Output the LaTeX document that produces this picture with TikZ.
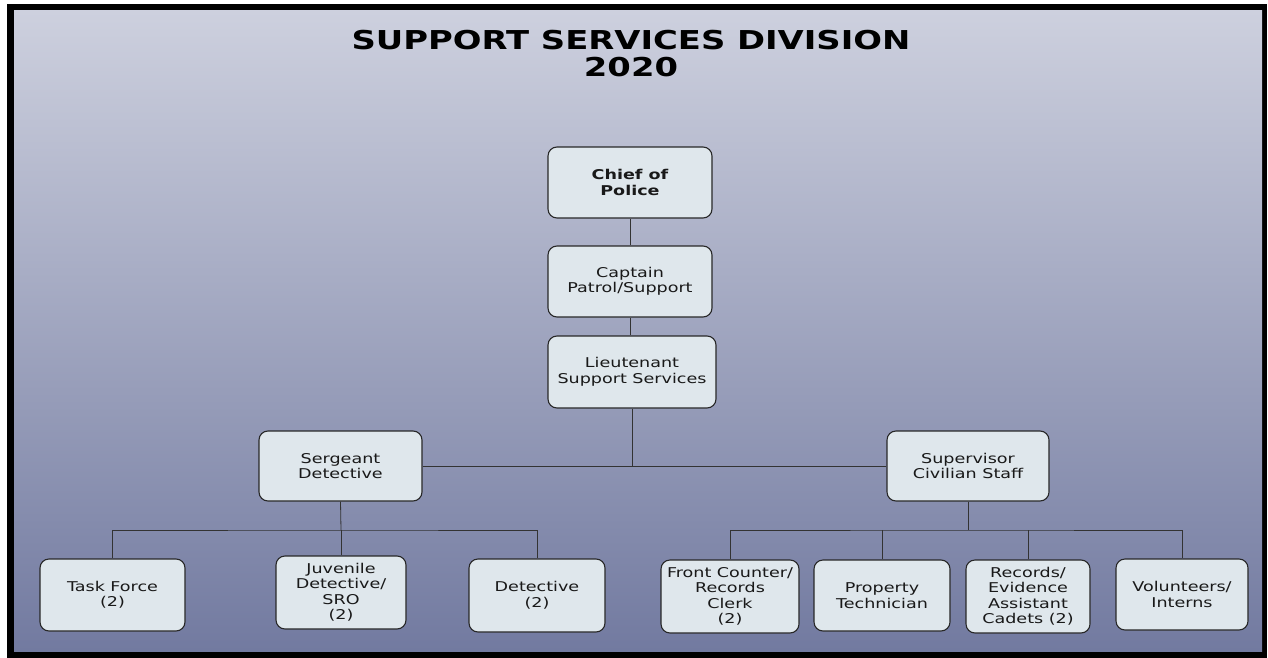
\documentclass[tikz,border=0pt]{standalone}
\usepackage{fontspec}
\setmainfont{DejaVu Sans}[FakeStretch=1.3]
\definecolor{bgtop}{RGB}{205,208,222}
\definecolor{bgbot}{RGB}{114,122,160}
\definecolor{boxfill}{RGB}{223,231,236}
\definecolor{boxline}{RGB}{40,40,40}
\begin{document}
\begin{tikzpicture}[x=1pt,y=-1pt,
  orgbox/.style={draw=boxline, fill=boxfill, line width=1.1pt, rounded corners=9pt,
     align=center, inner sep=0pt, font=\fontsize{13.5}{15.5}\selectfont, text=black!90},
  link/.style={draw=black!80, line width=0.8pt}]
\useasboundingbox (0,0) rectangle (1268,658);
\fill[black] (7,4) rectangle (1267,658);
\shade[top color=bgtop, bottom color=bgbot] (14,11) rectangle (1262,651);
\node[font=\bfseries\fontsize{26}{27}\selectfont, align=center] (title) at (631,54)
  {SUPPORT SERVICES DIVISION\\2020};
% boxes
\node[orgbox, minimum width=164pt, minimum height=71pt, font=\bfseries\fontsize{13.5}{15.5}\selectfont] (chief) at (630,182.5) {Chief of\\Police};
\node[orgbox, minimum width=164pt, minimum height=71pt] (capt) at (630,281.5) {Captain\\Patrol/Support};
\node[orgbox, minimum width=168pt, minimum height=72pt] (lt) at (632,372) {Lieutenant\\Support Services};
\node[orgbox, minimum width=163pt, minimum height=70pt] (sgt) at (340.5,466) {Sergeant\\Detective};
\node[orgbox, minimum width=162pt, minimum height=70pt] (sup) at (968,466) {Supervisor\\Civilian Staff};
\node[orgbox, minimum width=145pt, minimum height=72pt] (task) at (112.5,595) {Task Force\\(2)};
\node[orgbox, minimum width=130pt, minimum height=73pt] (juv) at (341,592.5) {Juvenile\\Detective/\\SRO\\(2)};
\node[orgbox, minimum width=136pt, minimum height=73pt] (det) at (537,595.5) {Detective\\(2)};
\node[orgbox, minimum width=138pt, minimum height=73pt] (front) at (730,596.5) {Front Counter/\\Records\\Clerk\\(2)};
\node[orgbox, minimum width=136pt, minimum height=71pt] (prop) at (882,595.5) {Property\\Technician};
\node[orgbox, minimum width=124pt, minimum height=73pt] (rec) at (1028,596.5) {Records/\\Evidence\\Assistant\\Cadets (2)};
\node[orgbox, minimum width=132pt, minimum height=71pt] (vol) at (1182,594.5) {Volunteers/\\Interns};
% connectors
\draw[link] (chief) -- (capt);
\draw[link] (capt.south) -- (capt.south |- lt.north);
\coordinate (mid) at (lt.south |- sgt.east);
\draw[link] (lt.south) -- (mid);
\draw[link] (sgt.east) -- (sup.west);
\coordinate (lb) at (341,530);
\draw[link] (sgt.south) -- (lb);
\draw[link] (task.north) |- (lb) -| (det.north);
\draw[link] (lb) -- (juv.north);
\coordinate (rb) at (968,530);
\draw[link] (sup.south) -- (rb);
\draw[link] (front.north) |- (rb) -| (vol.north);
\draw[link] (prop.north) -- (prop.north |- rb);
\draw[link] (rec.north) -- (rec.north |- rb);
\end{tikzpicture}
\end{document}
